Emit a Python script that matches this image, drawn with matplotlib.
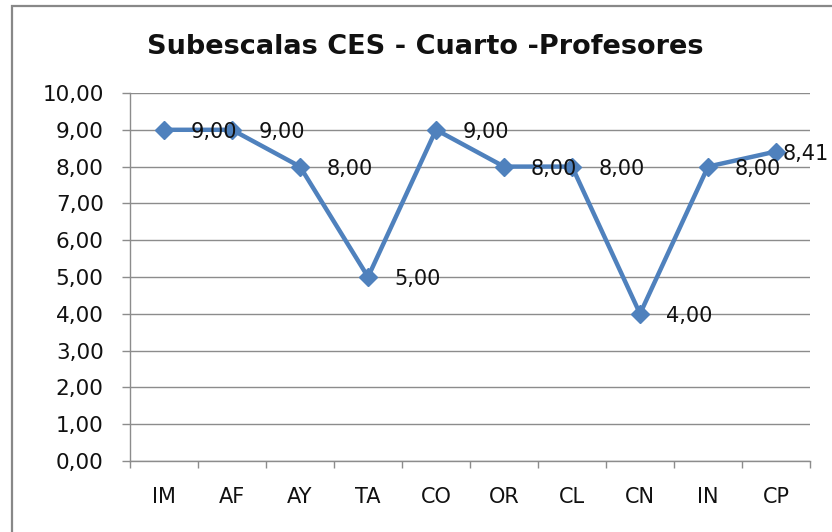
import matplotlib
matplotlib.use("Agg")
import matplotlib.pyplot as plt
from matplotlib.patches import Rectangle

categories = ["IM", "AF", "AY", "TA", "CO", "OR", "CL", "CN", "IN", "CP"]
values = [9.00, 9.00, 8.00, 5.00, 9.00, 8.00, 8.00, 4.00, 8.00, 8.41]
yticks = [0, 1, 2, 3, 4, 5, 6, 7, 8, 9, 10]
title = "Subescalas CES - Cuarto -Profesores"

def fmt(v):
    return f"{v:.2f}".replace(".", ",")

plt.rcParams['font.family'] = ['DejaVu Sans']
fig = plt.figure(figsize=(8.32, 5.32), dpi=100)
ax = fig.add_axes([0.1563, 0.1335, 0.9736 - 0.1563, 0.8252 - 0.1335])

x = list(range(len(categories)))
ax.plot(x, values, color="#4F81BD", linewidth=3.2, marker="D", markersize=9,
        markerfacecolor="#4F81BD", markeredgecolor="#4F81BD", zorder=3)
for i, (xi, v) in enumerate(zip(x, values)):
    off = 19 if i < len(values) - 1 else 5
    ax.annotate(fmt(v), (xi, v), xytext=(off, -1.5), textcoords="offset points",
                ha="left", va="center", fontsize=15, color="#111111", zorder=4,
                annotation_clip=False)

ax.set_xlim(-0.5, len(categories) - 0.5)
ax.set_ylim(0, 10)
ax.set_yticks(yticks)
ax.set_yticklabels([fmt(t) for t in yticks], fontsize=15.5, color="#111111")
ax.set_xticks(x)
ax.set_xticklabels(categories, fontsize=15, color="#111111")
ax.xaxis.set_minor_locator(matplotlib.ticker.FixedLocator([i - 0.5 for i in range(len(categories) + 1)]))
ax.tick_params(axis="x", which="major", length=0, pad=19)
ax.tick_params(axis="x", which="minor", length=5, color="#8c8c8c", width=1)
ax.tick_params(axis="y", length=6, color="#8c8c8c", width=1, pad=13)
ax.grid(axis="y", color="#8c8c8c", linewidth=1)
ax.set_axisbelow(True)
for s in ["top", "right"]:
    ax.spines[s].set_visible(False)
for s in ["left", "bottom"]:
    ax.spines[s].set_color("#8c8c8c")
    ax.spines[s].set_linewidth(1)

fig.text(425 / 832, 1 - 47 / 532, title, ha="center", va="center",
         fontsize=19.5, fontweight="bold", color="#111111")

fig.patches.append(Rectangle((12 / 832, -0.1), 1.2, 1 - 6 / 532 + 0.1,
                             transform=fig.transFigure, fill=False,
                             edgecolor="#888888", linewidth=1.6))

fig.savefig("out.png", dpi=100)
